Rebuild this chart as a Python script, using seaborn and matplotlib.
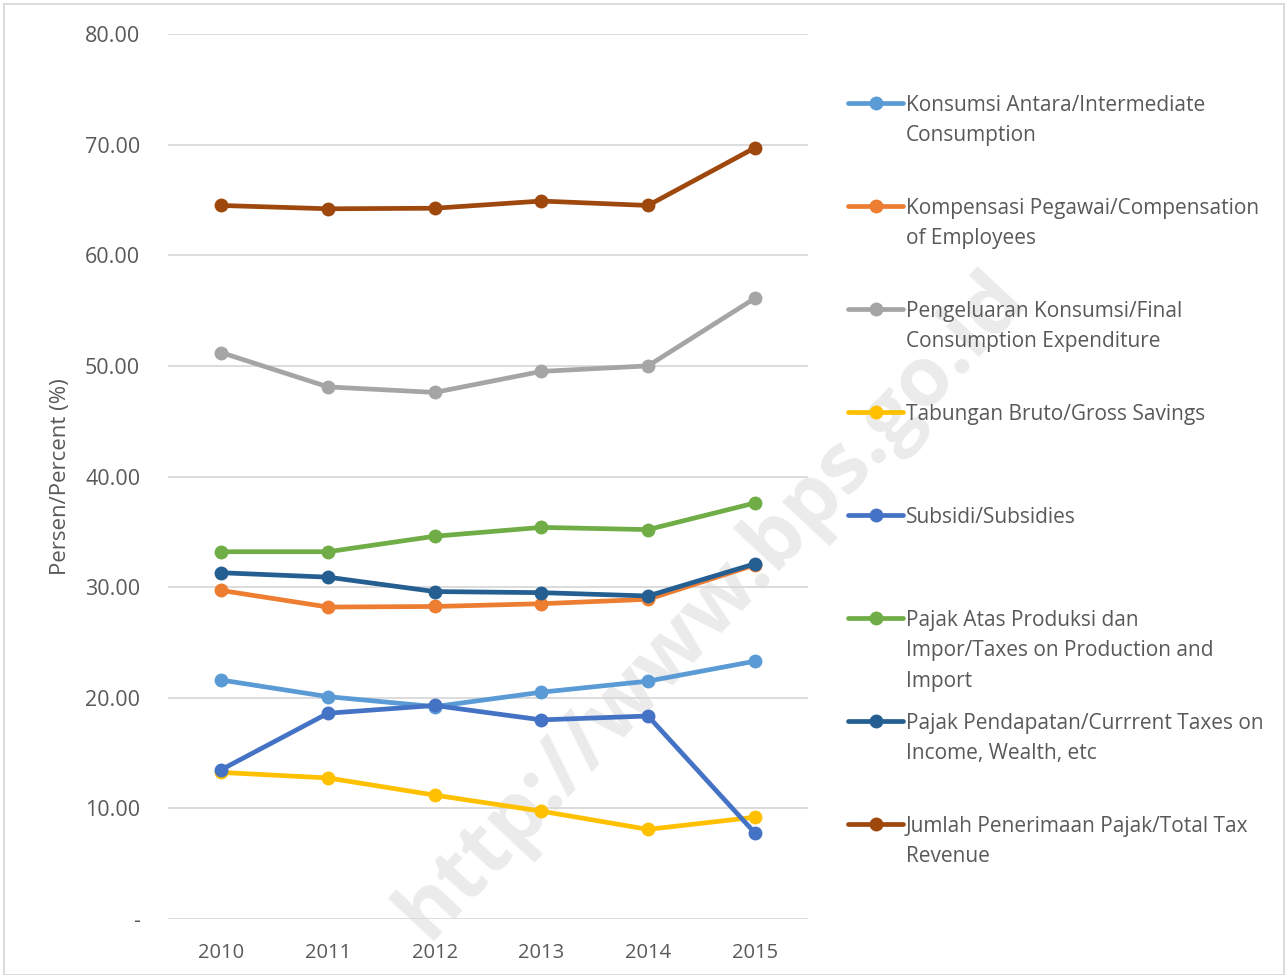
import matplotlib
matplotlib.use("Agg")
import matplotlib.pyplot as plt
from matplotlib.lines import Line2D
from matplotlib.patches import Rectangle
import seaborn as sns
import pandas as pd

years = [2010, 2011, 2012, 2013, 2014, 2015]

series_names = [
    "Konsumsi Antara/Intermediate\nConsumption",
    "Kompensasi Pegawai/Compensation\nof Employees",
    "Pengeluaran Konsumsi/Final\nConsumption Expenditure",
    "Tabungan Bruto/Gross Savings",
    "Subsidi/Subsidies",
    "Pajak Atas Produksi dan\nImpor/Taxes on Production and\nImport",
    "Pajak Pendapatan/Currrent Taxes on\nIncome, Wealth, etc",
    "Jumlah Penerimaan Pajak/Total Tax\nRevenue",
]

intermediate = [21.6, 20.1, 19.2, 20.5, 21.5, 23.3]
compensation = [29.7, 28.2, 28.25, 28.5, 28.9, 32.0]
final_cons = [51.2, 48.1, 47.6, 49.5, 50.0, 56.1]
savings = [13.25, 12.75, 11.2, 9.75, 8.1, 9.2]
subsidies = [13.5, 18.6, 19.3, 18.0, 18.35, 7.8]
taxes_prod = [33.2, 33.2, 34.6, 35.4, 35.2, 37.6]
taxes_income = [31.3, 30.9, 29.6, 29.5, 29.2, 32.1]
total_tax = [64.5, 64.2, 64.25, 64.9, 64.5, 69.7]

colors = ["#5B9BD5", "#ED7D31", "#A5A5A5", "#FFC000",
          "#4472C4", "#70AD47", "#255E91", "#9E480E"]

y_ticks = [0, 10, 20, 30, 40, 50, 60, 70, 80]
y_tick_labels = ["-", "10.00", "20.00", "30.00", "40.00", "50.00", "60.00", "70.00", "80.00"]

all_values = [intermediate, compensation, final_cons, savings,
              subsidies, taxes_prod, taxes_income, total_tax]

rows = []
for name, vals in zip(series_names, all_values):
    for yr, v in zip(years, vals):
        rows.append({"Year": yr, "Value": v, "Series": name})
df = pd.DataFrame(rows)

sns.set_theme(style="white")
plt.rcParams["font.family"] = ["Open Sans", "DejaVu Sans"]

W, H = 1285, 975
fig = plt.figure(figsize=(W / 100, H / 100), dpi=100)
ax = fig.add_axes([168 / W, 1 - 919 / H, (808 - 168) / W, (919 - 34) / H])
ax.set_facecolor("none")

# watermark (behind the plot)
fig.text(712 / W, 1 - 605 / H, "http://www.bps.go.id", fontsize=60,
         fontweight="bold", color="#EBEBEB", rotation=47,
         ha="center", va="center", rotation_mode="anchor",
         family=["Open Sans", "DejaVu Sans"], zorder=-5)

sns.lineplot(data=df, x="Year", y="Value", hue="Series", hue_order=series_names,
             palette=colors, marker="o", markersize=10, markeredgewidth=0,
             linewidth=3.4, ax=ax, legend=False, sort=False)

ax.set_xlim(2009.5, 2015.5)
ax.set_ylim(0, 80)
ax.set_yticks(y_ticks)
ax.set_yticklabels(y_tick_labels)
ax.set_xticks(years)
ax.set_xticklabels([str(y) for y in years])
ax.grid(axis="y", color="#D9D9D9", linewidth=1.3)
ax.set_axisbelow(True)
for s in ["top", "right", "left", "bottom"]:
    ax.spines[s].set_visible(False)
ax.tick_params(axis="y", length=0, pad=20, labelsize=15.5, labelcolor="#595959")
ax.tick_params(axis="x", length=0, pad=17, labelsize=14.5, labelcolor="#595959")
ax.set_xlabel("")
ax.set_ylabel("Persen/Percent (%)", fontsize=16, color="#595959")
ax.yaxis.set_label_coords((71 - 168) / 640, 0.5)

# legend drawn manually (Excel style, handle aligned with first line)
leg_y = [103, 206, 309, 412, 515, 618, 721, 824]
for name, col, py in zip(series_names, colors, leg_y):
    yf = 1 - py / H
    fig.add_artist(Line2D([848 / W, 903 / W], [yf, yf], color=col, linewidth=3.4,
                          solid_capstyle="round", transform=fig.transFigure))
    fig.add_artist(Line2D([875.5 / W], [yf], color=col, marker="o", markersize=10,
                          markeredgewidth=0, transform=fig.transFigure))
    fig.text(906 / W, 1 - (py - 8) / H, name, fontsize=15, color="#595959",
             va="top", ha="left", linespacing=1.58, transform=fig.transFigure)

# outer border
fig.add_artist(Rectangle((4 / W, 0), (W - 5) / W, 1 - 4 / H, fill=False,
                         edgecolor="#D9D9D9", linewidth=1.3, transform=fig.transFigure))

fig.savefig("out.png", dpi=100)
